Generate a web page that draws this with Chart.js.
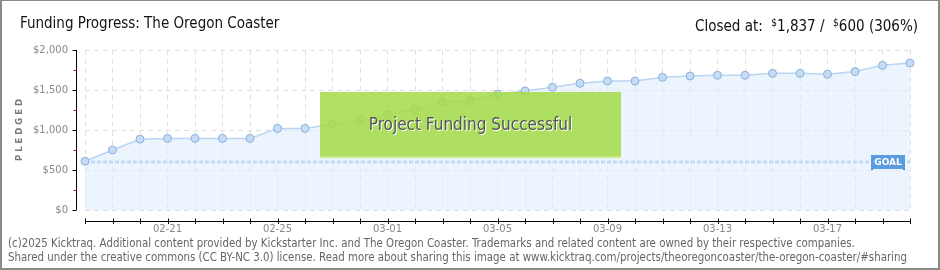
<!DOCTYPE html>
<html>
<head>
<meta charset="utf-8">
<script src="https://cdn.jsdelivr.net/npm/chart.js@4.4.1/dist/chart.umd.min.js"></script>
<style>
  html, body { margin: 0; padding: 0; background: #fff; }
  #wrap { position: relative; width: 940px; height: 270px; overflow: hidden; }
  #frame { position: absolute; left: 0; top: 0; width: 940px; height: 270px; box-sizing: border-box;
           border: 2px solid #8a8a8a; border-top-width: 1px; pointer-events: none; z-index: 5; }
  canvas { position: absolute; left: 0; top: 0; }
  .title { position: absolute; top: 14px; font-family: "DejaVu Sans Condensed", "DejaVu Sans", sans-serif;
           font-size: 15px; color: #111; white-space: nowrap; line-height: 18px; }
  #tl { left: 20px; }
  #tr { right: 22px; }
  #tr sup { font-size: 10px; vertical-align: 5px; }
  #box { position: absolute; left: 320px; top: 92px; width: 301px; height: 66px; box-sizing: border-box;
         background: rgba(164, 219, 72, 0.86); border-bottom: 2px solid rgba(200, 235, 140, 0.9);
         display: flex; align-items: center; justify-content: center; }
  #box span { font-family: "DejaVu Sans Condensed", "DejaVu Sans", sans-serif; font-size: 17px; color: #555;
              text-shadow: 1px 1px 0 #fff; white-space: nowrap; }
  .foot { position: absolute; left: 8px; font-family: "DejaVu Sans Condensed", "DejaVu Sans", sans-serif;
          font-size: 11.4px; color: #666; white-space: nowrap; line-height: 12px; }
  #f1 { top: 237px; }
  #f2 { top: 251px; }
</style>
</head>
<body>
<div id="wrap">
  <canvas id="c" width="940" height="270"></canvas>
  <div class="title" id="tl">Funding Progress: The Oregon Coaster</div>
  <div class="title" id="tr">Closed at:&nbsp; <sup>$</sup>1,837 /&nbsp; <sup>$</sup>600 (306%)</div>
  <div id="box"><span>Project Funding Successful</span></div>
  <div class="foot" id="f1">(c)2025 Kicktraq. Additional content provided by Kickstarter Inc. and The Oregon Coaster. Trademarks and related content are owned by their respective companies.</div>
  <div class="foot" id="f2">Shared under the creative commons (CC BY-NC 3.0) license. Read more about sharing this image at www.kicktraq.com/projects/theoregoncoaster/the-oregon-coaster/#sharing</div>
  <div id="frame"></div>
</div>
<script>
const dates = ["02-18","02-19","02-20","02-21","02-22","02-23","02-24","02-25","02-26","02-27","02-28",
               "03-01","03-02","03-03","03-04","03-05","03-06","03-07","03-08","03-09","03-10",
               "03-11","03-12","03-13","03-14","03-15","03-16","03-17","03-18","03-19","03-20"];
const pledged = [610, 750, 885, 895, 895, 895, 895, 1020, 1020, 1072, 1125,
                 1187, 1262, 1352, 1365, 1447, 1488, 1534, 1584, 1612, 1612,
                 1658, 1675, 1684, 1684, 1708, 1708, 1697, 1730, 1808, 1837];
const goalValue = 600;
const goal = dates.map(() => goalValue);
const yTicks = [0, 500, 1000, 1500, 2000];
const shownDates = ["02-21","02-25","03-01","03-05","03-09","03-13","03-17"];

const axesPlugin = {
  id: 'axesPlugin',
  afterDraw(chart) {
    const ctx = chart.ctx;
    const x = chart.scales.x, y = chart.scales.y;
    const area = chart.chartArea;
    ctx.save();
    const yx = area.left - 8.5;
    ctx.strokeStyle = '#000';
    ctx.lineWidth = 1;
    ctx.beginPath();
    ctx.moveTo(yx, y.getPixelForValue(2000));
    ctx.lineTo(yx, y.getPixelForValue(0));
    ctx.stroke();
    yTicks.forEach(v => {
      const py = Math.round(y.getPixelForValue(v)) + 0.5;
      ctx.strokeStyle = '#000';
      ctx.beginPath(); ctx.moveTo(yx - 4, py); ctx.lineTo(yx, py); ctx.stroke();
    });
    for (let i = 0; i < yTicks.length - 1; i++) {
      const v = (yTicks[i] + yTicks[i + 1]) / 2;
      const py = Math.round(y.getPixelForValue(v)) + 0.5;
      ctx.strokeStyle = '#e00';
      ctx.beginPath(); ctx.moveTo(yx - 3, py); ctx.lineTo(yx, py); ctx.stroke();
    }
    const xy = area.bottom + 11.5;
    ctx.strokeStyle = '#000';
    ctx.beginPath();
    ctx.moveTo(x.getPixelForValue(0), xy);
    ctx.lineTo(x.getPixelForValue(dates.length - 1), xy);
    ctx.stroke();
    dates.forEach((d, i) => {
      const px = Math.round(x.getPixelForValue(i)) + 0.5;
      ctx.beginPath(); ctx.moveTo(px, xy - 3); ctx.lineTo(px, xy + 2.5); ctx.stroke();
    });
    const gy = y.getPixelForValue(goalValue);
    const w = 34, h = 14;
    const gx = area.right - 5 - w;
    ctx.fillStyle = '#5b9be0';
    ctx.fillRect(gx, Math.round(gy - h / 2), w, h);
    ctx.fillStyle = '#3f7ec4';
    ctx.fillRect(gx, Math.round(gy + h / 2), 2, 1);
    ctx.fillRect(gx + w - 2, Math.round(gy + h / 2), 2, 1);
    ctx.fillStyle = '#fff';
    ctx.font = 'bold 9px "DejaVu Sans", sans-serif';
    ctx.textAlign = 'center';
    ctx.textBaseline = 'middle';
    ctx.fillText('GOAL', gx + w / 2, gy + 0.5);
    ctx.restore();
  }
};

new Chart(document.getElementById('c'), {
  type: 'line',
  data: {
    labels: dates,
    datasets: [
      {
        label: 'Goal',
        data: goal,
        borderColor: '#9dc1ec',
        borderWidth: 3,
        borderDash: [4, 2],
        pointRadius: 0,
        fill: false,
        order: 2
      },
      {
        label: 'Pledged',
        data: pledged,
        borderColor: '#b9d5f3',
        borderWidth: 1.5,
        backgroundColor: 'rgba(224, 236, 251, 0.6)',
        fill: 'origin',
        tension: 0,
        pointRadius: 4,
        pointBackgroundColor: '#c4dcf6',
        pointBorderColor: '#8fb0d8',
        pointBorderWidth: 1,
        order: 1
      }
    ]
  },
  options: {
    responsive: false,
    animation: false,
    devicePixelRatio: 1,
    layout: { padding: { left: 0, right: 30, top: 50, bottom: 0 } },
    plugins: { legend: { display: false }, tooltip: { enabled: false }, title: { display: false } },
    scales: {
      x: {
        type: 'category',
        offset: false,
        afterFit(s) { s.height = 60; },
        grid: { drawTicks: false, color: '#e0e0e0', lineWidth: 1 },
        border: { display: false, dash: [5, 4] },
        ticks: {
          autoSkip: false, maxRotation: 0, minRotation: 0, padding: 13,
          color: '#888', font: { family: '"DejaVu Sans", sans-serif', size: 10 },
          callback(v, i) { const d = dates[i]; return shownDates.includes(d) ? d : ''; }
        }
      },
      y: {
        min: 0, max: 2000,
        afterFit(s) { s.width = 85; },
        grid: { drawTicks: false, color: '#e0e0e0', lineWidth: 1 },
        border: { display: false, dash: [5, 4] },
        ticks: {
          stepSize: 500, padding: 17,
          color: '#888', font: { family: '"DejaVu Sans", sans-serif', size: 10 },
          callback(v) { return '$' + v.toLocaleString('en-US'); }
        },
        title: {
          display: true, text: 'P L E D G E D', color: '#777',
          font: { family: '"DejaVu Sans", sans-serif', size: 8.5, weight: 'bold' },
          padding: { top: 15, bottom: 0 }
        }
      }
    }
  },
  plugins: [axesPlugin]
});
</script>
</body>
</html>
